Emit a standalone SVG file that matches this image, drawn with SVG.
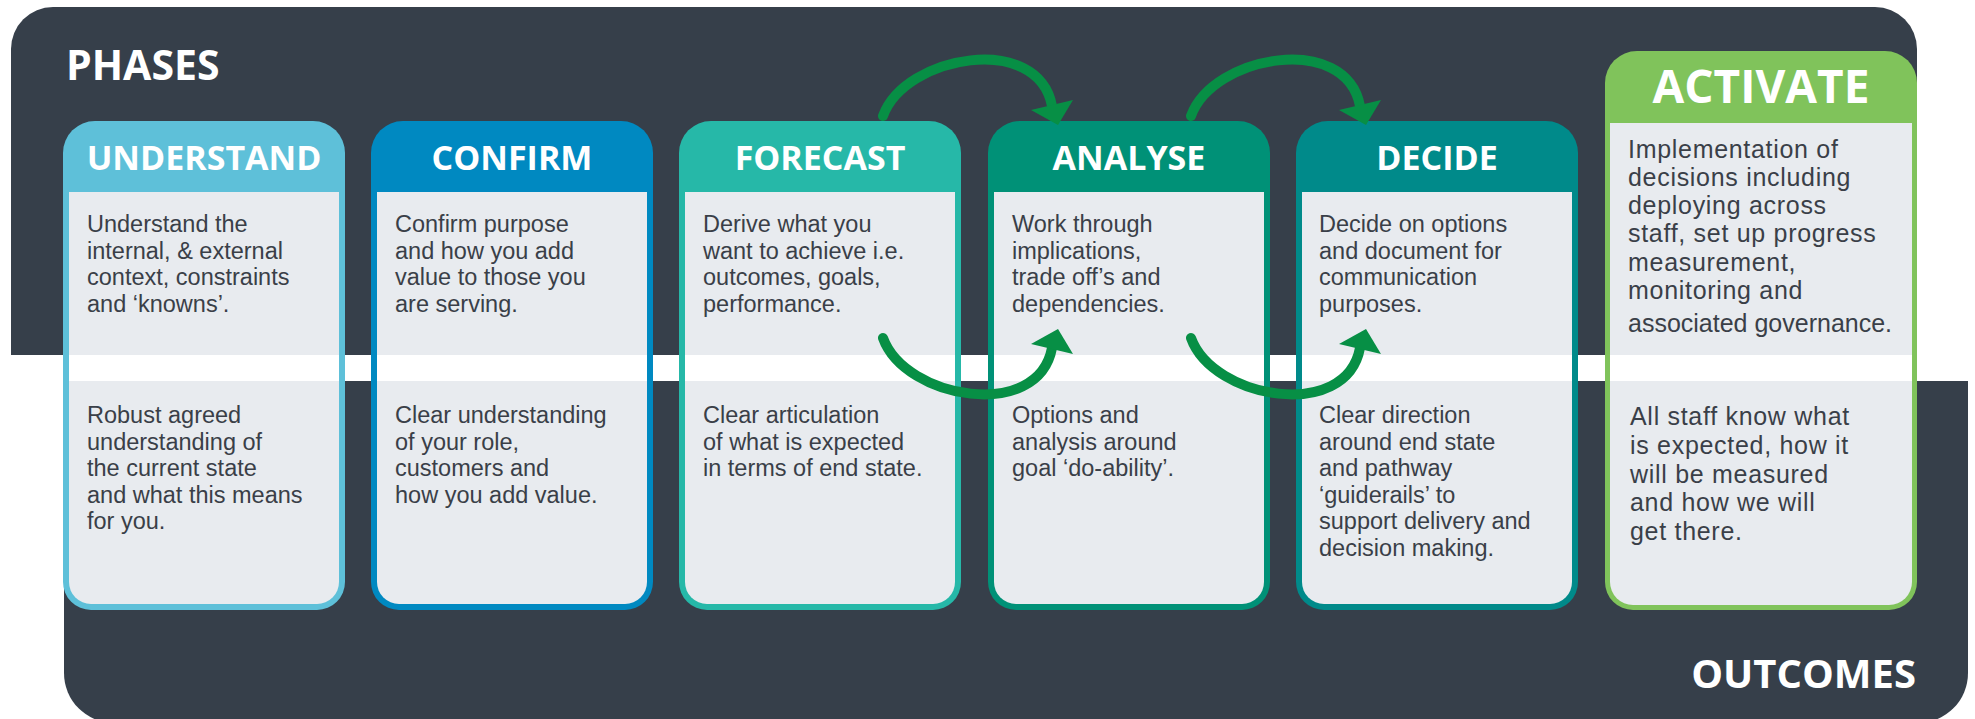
<svg xmlns="http://www.w3.org/2000/svg" width="1975" height="719" viewBox="0 0 1975 719">
  <defs>
    <style>
      .panel{fill:#363f4a}
      .lbl{font-family:"Open Sans","Liberation Sans",sans-serif;font-weight:700;fill:#ffffff}
      .hd{font-size:34px;text-anchor:middle}
      .body{font-family:"Liberation Sans",Arial,sans-serif;font-size:23.5px;fill:#3a3f48}
      .big{font-size:25px;letter-spacing:0.7px}
      .card-body{fill:#e8ebef}
      .gap{fill:#ffffff}
      .link{fill:none;stroke:#078f45;stroke-width:10;stroke-linecap:round}
      .tip{fill:#078f45}
    </style>
    <!-- standard phase card: 282 x 489, header band 71 high -->
    <path id="card" d="M0 32A32 32 0 0 1 32 0H250A32 32 0 0 1 282 32V461A28 28 0 0 1 254 489H28A28 28 0 0 1 0 461Z"/>
    <path id="cardBody" d="M6 71H276V461A22 22 0 0 1 254 483H28A22 22 0 0 1 6 461Z"/>
    <!-- wider, taller final card -->
    <path id="cardWide" d="M0 32A32 32 0 0 1 32 0H280A32 32 0 0 1 312 32V531A28 28 0 0 1 284 559H28A28 28 0 0 1 0 531Z"/>
    <path id="cardWideBody" d="M5 72H307V531A23 23 0 0 1 284 554H28A23 23 0 0 1 5 531Z"/>
  </defs>

  <!-- background bands -->
  <g id="bands">
    <path class="panel" d="M11 49A42 42 0 0 1 53 7H1875A42 42 0 0 1 1917 49V355H11Z"/>
    <path class="panel" d="M64 381H1968V673A50 50 0 0 1 1918 723H114A50 50 0 0 1 64 673Z"/>
    <text class="lbl" x="66" y="80" font-size="41">PHASES</text>
    <text class="lbl" x="1916" y="688" font-size="40" text-anchor="end">OUTCOMES</text>
  </g>

  <g id="understand" transform="translate(63 121)">
    <use href="#card" fill="#5ec0d9"/>
    <use href="#cardBody" class="card-body"/>
    <rect class="gap" x="6" y="234" width="270" height="26"/>
    <text class="lbl hd" x="141" y="49">UNDERSTAND</text>
    <text class="body"><tspan x="24" y="111">Understand the</tspan><tspan x="24" dy="26.5">internal, &amp; external</tspan><tspan x="24" dy="26.5">context, constraints</tspan><tspan x="24" dy="26.5">and ‘knowns’.</tspan></text>
    <text class="body"><tspan x="24" y="302">Robust agreed</tspan><tspan x="24" dy="26.5">understanding of</tspan><tspan x="24" dy="26.5">the current state</tspan><tspan x="24" dy="26.5">and what this means</tspan><tspan x="24" dy="26.5">for you.</tspan></text>
  </g>

  <g id="confirm" transform="translate(371 121)">
    <use href="#card" fill="#0089c1"/>
    <use href="#cardBody" class="card-body"/>
    <rect class="gap" x="6" y="234" width="270" height="26"/>
    <text class="lbl hd" x="141" y="49">CONFIRM</text>
    <text class="body"><tspan x="24" y="111">Confirm purpose</tspan><tspan x="24" dy="26.5">and how you add</tspan><tspan x="24" dy="26.5">value to those you</tspan><tspan x="24" dy="26.5">are serving.</tspan></text>
    <text class="body"><tspan x="24" y="302">Clear understanding</tspan><tspan x="24" dy="26.5">of your role,</tspan><tspan x="24" dy="26.5">customers and</tspan><tspan x="24" dy="26.5">how you add value.</tspan></text>
  </g>

  <g id="forecast" transform="translate(679 121)">
    <use href="#card" fill="#26b8a8"/>
    <use href="#cardBody" class="card-body"/>
    <rect class="gap" x="6" y="234" width="270" height="26"/>
    <text class="lbl hd" x="141" y="49">FORECAST</text>
    <text class="body"><tspan x="24" y="111">Derive what you</tspan><tspan x="24" dy="26.5">want to achieve i.e.</tspan><tspan x="24" dy="26.5">outcomes, goals,</tspan><tspan x="24" dy="26.5">performance.</tspan></text>
    <text class="body"><tspan x="24" y="302">Clear articulation</tspan><tspan x="24" dy="26.5">of what is expected</tspan><tspan x="24" dy="26.5">in terms of end state.</tspan></text>
  </g>

  <g id="analyse" transform="translate(988 121)">
    <use href="#card" fill="#009177"/>
    <use href="#cardBody" class="card-body"/>
    <rect class="gap" x="6" y="234" width="270" height="26"/>
    <text class="lbl hd" x="141" y="49">ANALYSE</text>
    <text class="body"><tspan x="24" y="111">Work through</tspan><tspan x="24" dy="26.5">implications,</tspan><tspan x="24" dy="26.5">trade off’s and</tspan><tspan x="24" dy="26.5">dependencies.</tspan></text>
    <text class="body"><tspan x="24" y="302">Options and</tspan><tspan x="24" dy="26.5">analysis around</tspan><tspan x="24" dy="26.5">goal ‘do-ability’.</tspan></text>
  </g>

  <g id="decide" transform="translate(1296 121)">
    <use href="#card" fill="#008a8a"/>
    <use href="#cardBody" class="card-body"/>
    <rect class="gap" x="6" y="234" width="270" height="26"/>
    <text class="lbl hd" x="141" y="49">DECIDE</text>
    <text class="body"><tspan x="23" y="111">Decide on options</tspan><tspan x="23" dy="26.5">and document for</tspan><tspan x="23" dy="26.5">communication</tspan><tspan x="23" dy="26.5">purposes.</tspan></text>
    <text class="body"><tspan x="23" y="302">Clear direction</tspan><tspan x="23" dy="26.5">around end state</tspan><tspan x="23" dy="26.5">and pathway</tspan><tspan x="23" dy="26.5">‘guiderails’ to</tspan><tspan x="23" dy="26.5">support delivery and</tspan><tspan x="23" dy="26.5">decision making.</tspan></text>
  </g>

  <g id="activate" transform="translate(1605 51)">
    <use href="#cardWide" fill="#80c35b"/>
    <use href="#cardWideBody" class="card-body"/>
    <rect class="gap" x="5" y="304" width="302" height="26"/>
    <text class="lbl" x="156" y="52" font-size="46" text-anchor="middle">ACTIVATE</text>
    <text class="body big"><tspan x="23" y="107">Implementation of</tspan><tspan x="23" y="135">decisions including</tspan><tspan x="23" y="163">deploying across</tspan><tspan x="23" y="191">staff, set up progress</tspan><tspan x="23" y="220">measurement,</tspan><tspan x="23" y="248">monitoring and</tspan><tspan x="23" y="281" letter-spacing="0">associated governance.</tspan></text>
    <text class="body big"><tspan x="25" y="374">All staff know what</tspan><tspan x="25" dy="28.8">is expected, how it</tspan><tspan x="25" dy="28.8">will be measured</tspan><tspan x="25" dy="28.8">and how we will</tspan><tspan x="25" dy="28.8">get there.</tspan></text>
  </g>

  <!-- looping arrows between the middle phases -->
  <g id="connectors">
    <path class="link" d="M883 116C905 55 1038 32 1052 106"/>
    <polygon class="tip" points="1031,110 1073,100 1058,125"/>
    <path class="link" d="M1191 116C1213 55 1346 32 1360 106"/>
    <polygon class="tip" points="1339,110 1381,100 1366,125"/>
    <path class="link" d="M883 338C905 399 1038 422 1052 348"/>
    <polygon class="tip" points="1031,344 1073,354 1058,329"/>
    <path class="link" d="M1191 338C1213 399 1346 422 1360 348"/>
    <polygon class="tip" points="1339,344 1381,354 1366,329"/>
  </g>
</svg>
